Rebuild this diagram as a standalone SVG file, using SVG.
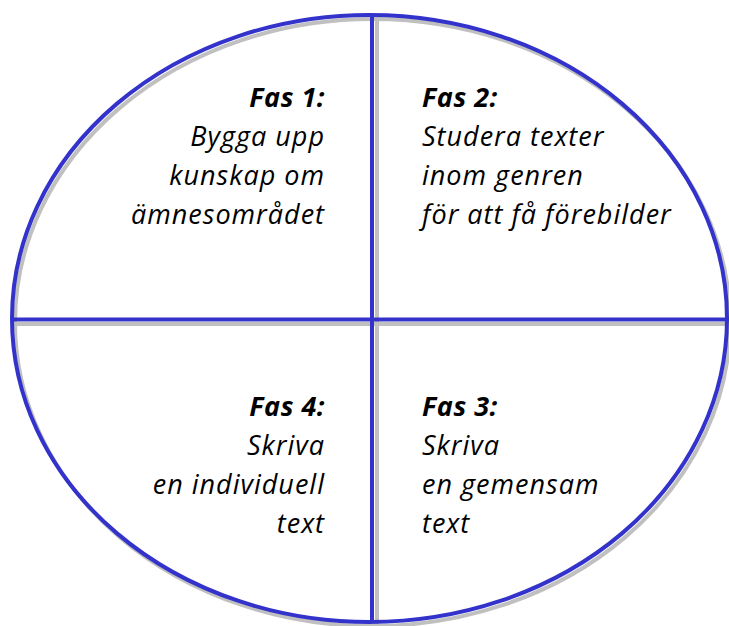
<svg xmlns="http://www.w3.org/2000/svg" width="729" height="626" viewBox="0 0 729 626">
<style>
.sh{fill:none;stroke:#c0c0c0;stroke-width:4}
.ln{fill:none;stroke:#3333cc;stroke-width:4}
text{font-family:"Open Sans","Liberation Sans",sans-serif;font-style:italic;font-size:27px;letter-spacing:1px;fill:#000}
.b{font-weight:bold;letter-spacing:0.5px}
.r{text-anchor:end}
</style>
<rect width="729" height="626" fill="#fff"/>
<g id="connectors">
<ellipse class="sh" cx="372.5" cy="322.5" rx="357.5" ry="303.5"/>
<line class="sh" x1="377" y1="19" x2="377" y2="624"/>
<line class="sh" x1="14" y1="324" x2="729" y2="324"/>
<ellipse class="ln" cx="369.5" cy="318.5" rx="357.5" ry="303.5"/>
<line class="ln" x1="372" y1="15" x2="372" y2="622"/>
<line class="ln" x1="12" y1="319.5" x2="729" y2="319.5"/>
</g>
<g id="fas1">
<text class="r b" x="325" y="107">Fas 1:</text>
<text class="r" x="325" y="146">Bygga upp</text>
<text class="r" x="325" y="185">kunskap om</text>
<text class="r" x="325" y="224">ämnesområdet</text>
</g>
<g id="fas2">
<text class="b" x="422" y="107">Fas 2:</text>
<text x="422" y="146">Studera texter</text>
<text x="422" y="185">inom genren</text>
<text x="422" y="224">för att få förebilder</text>
</g>
<g id="fas4">
<text class="r b" x="325" y="416">Fas 4:</text>
<text class="r" x="325" y="455">Skriva</text>
<text class="r" x="325" y="494">en individuell</text>
<text class="r" x="325" y="533">text</text>
</g>
<g id="fas3">
<text class="b" x="422" y="416">Fas 3:</text>
<text x="422" y="455">Skriva</text>
<text x="422" y="494">en gemensam</text>
<text x="422" y="533">text</text>
</g>
</svg>
